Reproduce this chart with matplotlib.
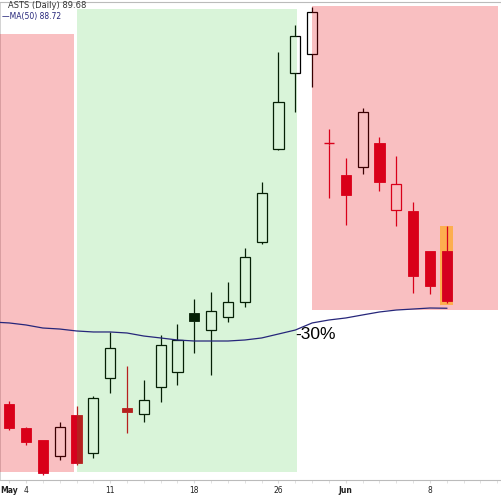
import matplotlib
matplotlib.use("Agg")
import matplotlib.pyplot as plt
from matplotlib.patches import Rectangle

# daily bars, May 1 .. Jun 9
dates = ["May 1", "May 4", "May 5", "May 6", "May 7", "May 8", "May 11", "May 12", "May 13",
         "May 14", "May 15", "May 18", "May 19", "May 20", "May 21", "May 22", "May 26",
         "May 27", "May 28", "May 29", "Jun 1", "Jun 2", "Jun 3", "Jun 4", "Jun 5", "Jun 8", "Jun 9"]
opens = [76.45, 73.36, 71.82, 69.76, 75.03, 70.15, 79.79, 75.93, 75.16, 78.63, 80.56, 88.14, 85.95,
         87.63, 89.55, 97.26, 109.21, 118.98, 121.42, 109.98, 105.87, 106.90, 109.98, 101.37,
         101.25, 96.11, 96.11]
highs = [76.83, 73.49, 71.82, 74.13, 76.19, 77.47, 85.70, 81.33, 79.53, 85.31, 86.73, 89.94, 90.84,
         92.12, 96.49, 104.97, 121.68, 125.15, 127.46, 111.78, 108.06, 114.48, 110.76, 108.31,
         102.40, 96.11, 99.32]
lows = [73.10, 71.18, 67.32, 69.25, 68.61, 69.51, 77.86, 72.72, 74.13, 76.70, 78.89, 83.00, 80.17,
        86.98, 88.91, 97.01, 109.08, 113.97, 117.18, 102.92, 99.45, 106.00, 103.82, 99.32,
        90.71, 90.58, 89.42]
closes = [73.36, 71.56, 67.58, 73.49, 68.86, 77.22, 83.64, 75.42, 76.96, 84.03, 84.67, 87.11, 88.40,
          89.55, 95.34, 103.56, 115.25, 123.73, 126.82, 109.73, 103.30, 113.97, 104.97, 104.72,
          92.89, 91.61, 89.68]
# MA(50), first value is Apr 30
ma50 = [86.98, 86.86, 86.60, 86.21, 86.08, 85.83, 85.70, 85.70, 85.57, 85.18, 84.93, 84.67, 84.54,
        84.54, 84.54, 84.67, 84.93, 85.44, 85.95, 86.86, 87.24, 87.50, 87.89, 88.27, 88.52,
        88.65, 88.78, 88.75]

tick_pos = [0, 1, 6, 11, 16, 20, 25]
tick_labels = ["May", "4", "11", "18", "26", "Jun", "8"]

RED = "#D5001E"
BLACK = "#000000"

fig = plt.figure(figsize=(5.01, 4.98), dpi=100)
ax = fig.add_axes([0, 18 / 498, 1, 478 / 498])

n = len(dates)
w = 0.6
for i in range(n):
    o, h, l, c = opens[i], highs[i], lows[i], closes[i]
    if i == 0:
        col = RED
    else:
        col = BLACK if c >= closes[i - 1] else RED
    z = 4 if i == n - 1 else 2
    lo, hi = min(o, c), max(o, c)
    ax.vlines(i, l, lo, color=col, lw=0.9, zorder=z)
    ax.vlines(i, hi, h, color=col, lw=0.9, zorder=z)
    if abs(c - o) < 0.4:
        ax.hlines(o, i - w / 2, i + w / 2, color=col, lw=1.0, zorder=z)
        ax.vlines(i, lo, hi, color=col, lw=0.9, zorder=z)
    elif c > o:
        ax.add_patch(Rectangle((i - w / 2, lo), w, hi - lo, facecolor="white",
                               edgecolor=col, lw=0.9, zorder=z))
    else:
        ax.add_patch(Rectangle((i - w / 2, lo), w, hi - lo, facecolor=col,
                               edgecolor=col, lw=0.6, zorder=z))

# shaded zones
ax.add_patch(Rectangle((-0.6, 67.71), 4.45, 123.99 - 67.71, facecolor="#E8000B",
                       alpha=0.25, lw=0, zorder=3))
ax.add_patch(Rectangle((4.03, 67.71), 13.07, 127.20 - 67.71, facecolor="#22C022",
                       alpha=0.17, lw=0, zorder=3))
ax.add_patch(Rectangle((18.0, 88.52), 11.05, 127.59 - 88.52, facecolor="#E8000B",
                       alpha=0.25, lw=0, zorder=3))
# highlight on last bar
ax.add_patch(Rectangle((n - 1 - 0.38, 89.17), 0.76, 99.32 - 89.17, facecolor="#FFAA33",
                       alpha=0.8, lw=0, zorder=3.5))

ax.plot(range(-1, n), ma50, color="#26267A", lw=0.9, zorder=4.5)

ax.text(16.98, 85.40, "-30%", fontsize=12.5, family="Liberation Sans", va="center",
        ha="left", zorder=6)

ax.set_xlim(-0.545, 29.22)
ax.set_ylim(66.68, 128.10)
ax.set_yticks([])
ax.set_xticks(tick_pos)
ax.set_xticklabels(tick_labels, fontsize=5.5, color="#222222")
for t in ax.get_xticklabels():
    if t.get_text() in ("May", "Jun"):
        t.set_fontweight("bold")
ax.set_xticks(range(n + 3), minor=True)
ax.tick_params(axis="x", which="both", length=2, color="#DDDDDD", pad=2)
for s in ("top", "bottom"):
    ax.spines[s].set_color("#BBBBBB")
    ax.spines[s].set_linewidth(0.8)
ax.spines["left"].set_color("#CCCCCC")
ax.spines["left"].set_linewidth(0.6)
ax.spines["right"].set_visible(False)

fig.text(0.016, 1 - 6 / 498, "ASTS (Daily) 89.68", fontsize=6, color="#333333", va="center")
fig.text(0.004, 1 - 16 / 498, "\u2014MA(50) 88.72", fontsize=5.5, color="#26267A", va="center")

fig.savefig("out.png", dpi=100)
